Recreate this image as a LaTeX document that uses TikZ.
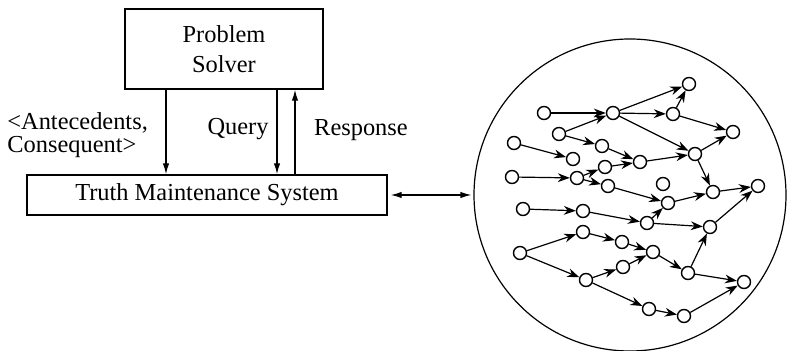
\documentclass[tikz,border=0pt]{standalone}
\usepackage{fontspec}
\setmainfont{Liberation Serif}
\usepackage{tikz}
\usetikzlibrary{arrows.meta,positioning}

\tikzset{
  box/.style={draw, line width=0.7pt, inner sep=0pt},
  lbl/.style={inner sep=0pt, font=\fontsize{12.2}{15}\selectfont},
  link/.style={-{Latex[length=5.5pt,width=3.2pt]}, line width=0.6pt},
  fact/.style={circle, draw, line width=0.7pt, minimum size=6.5pt, inner sep=0pt},
  just/.style={-{Stealth[length=6pt,width=4.4pt]}, line width=0.6pt}
}

\begin{document}
\begin{tikzpicture}[x=0.5pt, y=-0.5pt]
  \useasboundingbox (0,0) rectangle (787,351);

  % problem solver and TMS
  \node[box, lbl, align=center, minimum width=99pt, minimum height=40pt] (solver) at (224,49) {Problem\\Solver};
  \node[box, lbl, minimum width=180pt, minimum height=20pt] (tms) at (207,195) {Truth Maintenance System};

  \coordinate (ante) at (166,0);
  \coordinate (ask) at (277,0);
  \coordinate (answer) at (295,0);
  \draw[link] (solver.south -| ante) -- (tms.north -| ante);
  \draw[link] (solver.south -| ask) -- (tms.north -| ask);
  \draw[link] (tms.north -| answer) -- (solver.south -| answer);

  \node[lbl, align=left, anchor=west, font=\fontsize{12.2}{11.2}\selectfont] (antelabel) at (7,135) {<Antecedents,\\Consequent>};
  \node[lbl, anchor=base] (querylabel) at (238,135) {Query};
  \node[lbl, anchor=base] (resplabel) at (361,136) {Response};

  % dependency network
  \node[circle, draw, line width=0.6pt, minimum size=156pt, inner sep=0pt] (net) at (630,195) {};
  \draw[{Latex[length=5.5pt,width=3.2pt]}-{Latex[length=5.5pt,width=3.2pt]}, line width=0.6pt,
        shorten <=1.5pt, shorten >=1pt] (tms.east) -- (net.west);

  \node[fact] (a) at (544,113) {};  \node[fact] (b) at (613,113) {};  \node[fact] (c) at (689,84) {};
  \node[fact] (d) at (673,114) {};  \node[fact] (e) at (733,132) {};  \node[fact] (f) at (559,134) {};
  \node[fact] (g) at (602,146) {};  \node[fact] (h) at (514,143) {};  \node[fact] (i) at (573,159) {};
  \node[fact] (j) at (640,162) {};  \node[fact] (k) at (695,154) {};  \node[fact] (l) at (605,167) {};
  \node[fact] (m) at (512,177) {};  \node[fact] (n) at (577,178) {};  \node[fact] (o) at (608,186) {};
  \node[fact] (p) at (663,184) {};  \node[fact] (q) at (713,192) {};  \node[fact] (r) at (758,186) {};
  \node[fact] (s) at (668,203) {};  \node[fact] (t) at (523,209) {};  \node[fact] (u) at (583,211) {};
  \node[fact] (v) at (647,223) {};  \node[fact] (w) at (710,227) {};  \node[fact] (x) at (583,232) {};
  \node[fact] (y) at (622,242) {};  \node[fact] (z) at (520,253) {};  \node[fact] (aa) at (653,252) {};
  \node[fact] (bb) at (623,267) {}; \node[fact] (cc) at (586,280) {}; \node[fact] (dd) at (688,273) {};
  \node[fact] (ee) at (744,282) {}; \node[fact] (ff) at (649,309) {}; \node[fact] (gg) at (684,316) {};

  \draw[just] (a) -- (b);  \draw[just] (b) -- (c);  \draw[just] (d) -- (c);  \draw[just] (b) -- (d);
  \draw[just] (d) -- (e);  \draw[just] (b) -- (k);  \draw[just] (f) -- (b);  \draw[just] (f) -- (g);
  \draw[just] (g) -- (j);  \draw[just] (h) -- (i);  \draw[just] (j) -- (k);  \draw[just] (k) -- (e);
  \draw[just] (k) -- (q);  \draw[just] (m) -- (n);  \draw[just] (n) -- (l);  \draw[just] (n) -- (o);
  \draw[just] (l) -- (j);  \draw[just] (o) -- (s);  \draw[just] (v) -- (s);  \draw[just] (s) -- (q);
  \draw[just] (q) -- (r);  \draw[just] (t) -- (u);  \draw[just] (u) -- (v);  \draw[just] (v) -- (w);
  \draw[just] (w) -- (r);  \draw[just] (z) -- (x);  \draw[just] (z) -- (cc); \draw[just] (x) -- (y);
  \draw[just] (y) -- (aa); \draw[just] (cc) -- (bb); \draw[just] (bb) -- (aa); \draw[just] (aa) -- (dd);
  \draw[just] (dd) -- (w); \draw[just] (dd) -- (ee); \draw[just] (cc) -- (ff); \draw[just] (ff) -- (gg);
  \draw[just] (gg) -- (ee);
\end{tikzpicture}
\end{document}
